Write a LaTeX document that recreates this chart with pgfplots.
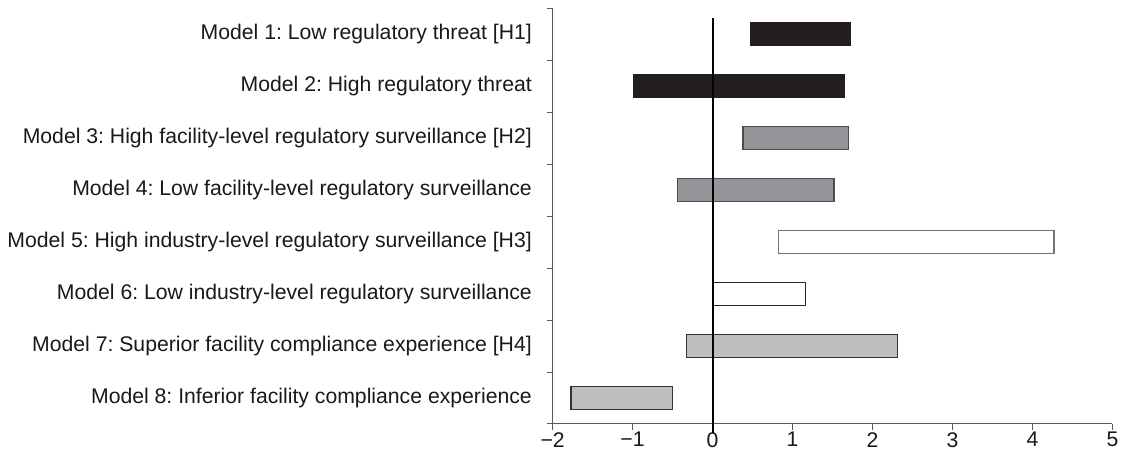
\documentclass[border=0pt]{standalone}
\usepackage{pgfplots}
\pgfplotsset{compat=1.18}
\usepackage{fontspec}
\setmainfont{Liberation Sans}
\frenchspacing
\definecolor{barblack}{HTML}{231F20}
\definecolor{bardark}{HTML}{939598}
\definecolor{barlight}{HTML}{BCBEC0}
\definecolor{axgray}{HTML}{5A5A5A}
\begin{document}
\frenchspacing
\begin{tikzpicture}
\begin{axis}[
  scale only axis,
  width=559.8pt, height=416pt,
  xmin=-2, xmax=5, ymin=0.5, ymax=8.5,
  clip=false,
  axis x line*=bottom, axis y line*=left,
  axis line style={draw=axgray, line width=1pt},
  tick align=outside,
  major tick length=6pt, minor tick length=6pt,
  xtick={-2,-1,0,1,2,3,4,5},
  xticklabels={−2,−1,0,1,2,3,4,5},
  ytick={1,2,3,4,5,6,7,8},
  yticklabels={
    Model 8: Inferior facility compliance experience,
    Model 7: Superior facility compliance experience [H4],
    Model 6: Low industry-level regulatory surveillance,
    Model 5: High industry-level regulatory surveillance [H3],
    Model 4: Low facility-level regulatory surveillance,
    Model 3: High facility-level regulatory surveillance [H2],
    Model 2: High regulatory threat,
    Model 1: Low regulatory threat [H1]},
  minor ytick={0.5,1.5,2.5,3.5,4.5,5.5,6.5,7.5,8.5},
  major x tick style={draw=axgray, line width=1pt},
  major y tick style={draw=none},
  minor y tick style={draw=axgray, line width=1pt},
  tick label style={font=\fontsize{21.2}{25}\selectfont\frenchspacing, text=black!90},
  yticklabel style={inner sep=0pt, xshift=-14.6pt},
  xticklabel style={inner sep=0pt, yshift=-2pt},
]
\coordinate (O) at (rel axis cs:0,0);
% Model 1
\addplot[fill=barblack, draw=barblack, line width=1.2pt, line join=miter] coordinates {(0.48,7.785) (1.73,7.785) (1.73,8.215) (0.48,8.215)} -- cycle;
% Model 2
\addplot[fill=barblack, draw=barblack, line width=1.2pt, line join=miter] coordinates {(-0.99,6.785) (1.655,6.785) (1.655,7.215) (-0.99,7.215)} -- cycle;
% Model 3
\addplot[fill=bardark, draw=black!70, line width=1.2pt, line join=miter] coordinates {(0.38,5.785) (1.70,5.785) (1.70,6.215) (0.38,6.215)} -- cycle;
% Model 4
\addplot[fill=bardark, draw=black!70, line width=1.2pt, line join=miter] coordinates {(-0.44,4.785) (1.52,4.785) (1.52,5.215) (-0.44,5.215)} -- cycle;
% Model 5
\addplot[fill=white, draw=black!55, line width=1.2pt, line join=miter] coordinates {(0.82,3.785) (4.27,3.785) (4.27,4.215) (0.82,4.215)} -- cycle;
% Model 6
\addplot[fill=white, draw=black!85, line width=1.2pt, line join=miter] coordinates {(0.00,2.785) (1.165,2.785) (1.165,3.215) (0.00,3.215)} -- cycle;
% Model 7
\addplot[fill=barlight, draw=black!80, line width=1.2pt, line join=miter] coordinates {(-0.33,1.785) (2.31,1.785) (2.31,2.215) (-0.33,2.215)} -- cycle;
% Model 8
\addplot[fill=barlight, draw=black!80, line width=1.2pt, line join=miter] coordinates {(-1.77,0.785) (-0.50,0.785) (-0.50,1.215) (-1.77,1.215)} -- cycle;
% zero line
\addplot[black, line width=2pt] coordinates {(0,0.33) (0,8.31)};
\end{axis}
\pgfresetboundingbox
\path (O) ++(-552.6pt,-28pt) rectangle ++(1121pt,452pt);
\end{tikzpicture}
\end{document}
